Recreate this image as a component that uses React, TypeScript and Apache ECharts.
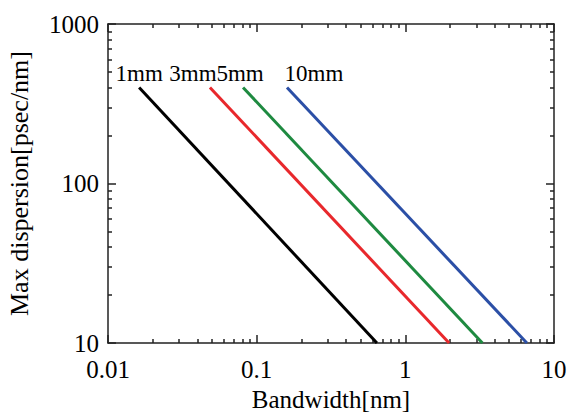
import React, { useEffect, useRef } from "react";
import * as echarts from "echarts";

const seriesNames = ["1mm", "3mm", "5mm", "10mm"];
const seriesColors = ["#000000", "#e8282c", "#1e8a40", "#2b4fa6"];
const bandwidth1mm = [0.0162, 0.644];
const bandwidth3mm = [0.0485, 1.97];
const bandwidth5mm = [0.081, 3.3];
const bandwidth10mm = [0.16, 6.57];
const dispersion = [400, 10];
const labelOffsets = [0, -17, -3, 27];
const xMajorTicks = [0.01, 0.1, 1, 10];
const yMajorTicks = [10, 100, 1000];
const minorMultipliers = [2, 3, 4, 5, 6, 7, 8, 9];
const xDecades = [0.01, 0.1, 1];
const yDecades = [10, 100];

const FONT = "Liberation Serif";

export default function App() {
  const ref = useRef<HTMLDivElement>(null);
  useEffect(() => {
    if (!ref.current) return;
    const chart = echarts.init(ref.current, null, { renderer: "svg" });
    const xs = [bandwidth1mm, bandwidth3mm, bandwidth5mm, bandwidth10mm];
    const xMinor: number[] = [];
    xDecades.forEach((d) => minorMultipliers.forEach((m) => xMinor.push(Math.log10(d * m))));
    const yMinor: number[] = [];
    yDecades.forEach((d) => minorMultipliers.forEach((m) => yMinor.push(Math.log10(d * m))));

    const lineStyle = { color: "#222", width: 1.5 };
    const majorAxisBase = (pos: string) => ({
      type: "log",
      logBase: 10,
      position: pos,
      axisLine: { show: true, onZero: false, lineStyle },
      axisTick: { show: true, inside: true, length: 8, lineStyle },
      splitLine: { show: false },
      minorTick: { show: false },
    });
    const minorAxisBase = (pos: string, min: number, max: number, vals: number[]) => ({
      type: "value",
      position: pos,
      min,
      max,
      axisLine: { show: false, onZero: false },
      axisTick: { show: true, inside: true, length: 4, lineStyle, customValues: vals },
      axisLabel: { show: false },
      splitLine: { show: false },
    });

    const series = seriesNames.map((name, i) => ({
      name,
      type: "line",
      xAxisIndex: 0,
      yAxisIndex: 0,
      symbol: "circle",
      symbolSize: 0,
      showSymbol: true,
      lineStyle: { color: seriesColors[i], width: 3 },
      itemStyle: { color: seriesColors[i] },
      label: { show: false },
      data: xs[i].map((x, j) => {
        const item: any = { value: [x, dispersion[j]] };
        if (j === 0) {
          item.label = {
            show: true,
            position: "top",
            distance: 2,
            offset: [labelOffsets[i], 0],
            formatter: name,
            color: "#000",
            fontFamily: FONT,
            fontSize: 23,
          };
        }
        return item;
      }),
    }));

    chart.setOption({
      animation: false,
      backgroundColor: "#fff",
      textStyle: { fontFamily: FONT },
      grid: { left: 108, right: 15, top: 24, bottom: 69, containLabel: false, outerBoundsMode: "none" },
      xAxis: [
        {
          ...majorAxisBase("bottom"),
          min: xMajorTicks[0],
          max: xMajorTicks[xMajorTicks.length - 1],
          name: "Bandwidth[nm]",
          nameLocation: "middle",
          nameGap: 39,
          nameTextStyle: { fontFamily: FONT, fontSize: 25, color: "#000" },
          axisLabel: {
            show: true,
            margin: 14,
            fontFamily: FONT,
            fontSize: 25,
            color: "#000",
            formatter: (v: number) => String(v),
          },
        },
        minorAxisBase("bottom", -2, 1, xMinor),
        {
          ...majorAxisBase("top"),
          min: xMajorTicks[0],
          max: xMajorTicks[xMajorTicks.length - 1],
          axisLabel: { show: false },
        },
        minorAxisBase("top", -2, 1, xMinor),
      ],
      yAxis: [
        {
          ...majorAxisBase("left"),
          min: yMajorTicks[0],
          max: yMajorTicks[yMajorTicks.length - 1],
          name: "Max dispersion[psec/nm]",
          nameLocation: "middle",
          nameGap: 76,
          nameTextStyle: { fontFamily: FONT, fontSize: 26, color: "#000" },
          axisLabel: {
            show: true,
            margin: 9,
            fontFamily: FONT,
            fontSize: 25,
            color: "#000",
            formatter: (v: number) => String(v),
          },
        },
        minorAxisBase("left", 1, 3, yMinor),
        {
          ...majorAxisBase("right"),
          min: yMajorTicks[0],
          max: yMajorTicks[yMajorTicks.length - 1],
          axisLabel: { show: false },
        },
        minorAxisBase("right", 1, 3, yMinor),
      ],
      series,
    });
    return () => chart.dispose();
  }, []);
  return <div ref={ref} style={{ width: 569, height: 412, position: "absolute", left: 0, top: 0 }} />;
}
